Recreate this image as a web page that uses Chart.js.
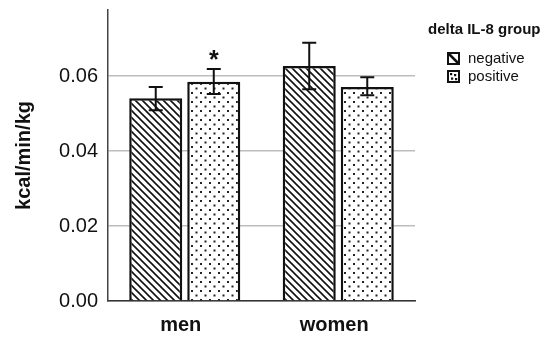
<!DOCTYPE html>
<html>
<head>
<meta charset="utf-8">
<script src="https://cdn.jsdelivr.net/npm/chart.js@4.4.1/dist/chart.umd.min.js"></script>
<style>
  html, body { margin: 0; padding: 0; background: #fff; }
  #wrap { width: 550px; height: 346px; position: relative; }
</style>
</head>
<body>
<div id="wrap"><canvas id="chart"></canvas></div>
<script>
// data
const categories = ['men', 'women'];
const groupNames = ['negative', 'positive'];
const negativeMeans = [0.0541, 0.0627];
const positiveMeans = [0.0585, 0.0571];
const negativeErr = [[0.0509, 0.0571], [0.0565, 0.0689]];
const positiveErr = [[0.0552, 0.0619], [0.0549, 0.0597]];
const significant = [[false, false], [true, false]]; // per dataset, per category
const yTicks = [0, 0.02, 0.04, 0.06];

const FONT = "'Liberation Sans', Arial, sans-serif";

function hatchPattern() {
  const c = document.createElement('canvas');
  c.width = 7; c.height = 7;
  const g = c.getContext('2d');
  g.fillStyle = '#fff';
  g.fillRect(0, 0, 7, 7);
  g.strokeStyle = '#111';
  g.lineWidth = 1.6;
  g.beginPath();
  g.moveTo(-1, -1); g.lineTo(8, 8);
  g.moveTo(-1, 6); g.lineTo(1, 8);
  g.moveTo(6, -1); g.lineTo(8, 1);
  g.stroke();
  return g.createPattern(c, 'repeat');
}

function dotPattern() {
  const c = document.createElement('canvas');
  c.width = 9; c.height = 9;
  const g = c.getContext('2d');
  g.fillStyle = '#fff';
  g.fillRect(0, 0, 9, 9);
  g.fillStyle = '#222';
  g.fillRect(2, 2, 2, 2);
  g.fillRect(6.5, 6.5, 2, 2);
  return g.createPattern(c, 'repeat');
}

const hatch = hatchPattern();
const dots = dotPattern();
const errors = [negativeErr, positiveErr];

const errorBars = {
  id: 'errorBars',
  afterDatasetsDraw(chart) {
    const ctx = chart.ctx;
    const y = chart.scales.y;
    ctx.save();
    ctx.strokeStyle = '#111';
    ctx.lineWidth = 2;
    chart.data.datasets.forEach((ds, i) => {
      chart.getDatasetMeta(i).data.forEach((bar, j) => {
        const [lo, hi] = errors[i][j];
        const yl = y.getPixelForValue(lo), yh = y.getPixelForValue(hi);
        ctx.beginPath();
        ctx.moveTo(bar.x, yl); ctx.lineTo(bar.x, yh);
        ctx.moveTo(bar.x - 7, yl); ctx.lineTo(bar.x + 7, yl);
        ctx.moveTo(bar.x - 7, yh); ctx.lineTo(bar.x + 7, yh);
        ctx.stroke();
        if (significant[i][j]) {
          ctx.fillStyle = '#111';
          ctx.font = 'bold 25px ' + FONT;
          ctx.textAlign = 'center';
          ctx.textBaseline = 'middle';
          ctx.fillText('*', bar.x, yh - 8);
        }
      });
    });
    ctx.restore();
  }
};

// legend swatches are coarse versions of the bar fills
function drawSwatch(ctx, kind, x, y, s) {
  ctx.fillStyle = '#fff';
  ctx.fillRect(x, y, s, s);
  ctx.fillStyle = '#111';
  ctx.strokeStyle = '#111';
  if (kind === 0) {
    ctx.lineWidth = 2.5;
    ctx.beginPath();
    ctx.moveTo(x + 1, y + 1); ctx.lineTo(x + s - 1, y + s - 1);
    ctx.stroke();
  } else {
    [[3, 3], [7, 4], [4, 7.5], [8, 8]].forEach(([dx, dy]) => ctx.fillRect(x + dx - 1, y + dy - 1, 2.2, 2.2));
  }
  ctx.lineWidth = 2;
  ctx.strokeRect(x, y, s, s);
}

const sideLegend = {
  id: 'sideLegend',
  afterDraw(chart) {
    const ctx = chart.ctx;
    ctx.save();
    ctx.fillStyle = '#111';
    ctx.textBaseline = 'middle';
    ctx.textAlign = 'left';
    ctx.font = 'bold 15px ' + FONT;
    ctx.fillText('delta IL-8 group', 428, 30);
    groupNames.forEach((name, i) => {
      const cy = 59 + i * 18;
      drawSwatch(ctx, i, 448, cy - 6, 11);
      ctx.fillStyle = '#111';
      ctx.font = '15px ' + FONT;
      ctx.fillText(name, 468, cy);
    });
    ctx.restore();
  }
};

new Chart(document.getElementById('chart'), {
  type: 'bar',
  data: {
    labels: categories,
    datasets: [
      {
        label: groupNames[0],
        data: negativeMeans,
        backgroundColor: hatch,
        borderColor: '#111',
        borderWidth: 2.5,
      },
      {
        label: groupNames[1],
        data: positiveMeans,
        backgroundColor: dots,
        borderColor: '#111',
        borderWidth: 2.5,
      },
    ],
  },
  options: {
    responsive: true,
    maintainAspectRatio: false,
    animation: false,
    devicePixelRatio: 1,
    layout: { padding: { top: 10, right: 135, left: 0, bottom: 0 } },
    datasets: { bar: { categoryPercentage: 0.756, barPercentage: 0.914 } },
    scales: {
      x: {
        grid: { display: false, drawTicks: false },
        border: { display: true, color: '#333', width: 1.5 },
        ticks: { color: '#111', font: { family: FONT, size: 20, weight: 'bold' }, padding: 12, labelOffset: -4 },
        afterFit: (s) => { s.height = 45; s.paddingLeft = 0; s.paddingRight = 0; },
      },
      y: {
        min: 0,
        max: 0.0776,
        afterBuildTicks: (s) => { s.ticks = yTicks.map(v => ({ value: v })); },
        grid: { color: '#bdbdbd', lineWidth: 1.5, drawTicks: false },
        border: { display: true, color: '#444', width: 1.5 },
        ticks: {
          color: '#111',
          padding: 10,
          font: { family: FONT, size: 20 },
          callback: (v) => Number(v).toFixed(2),
        },
        title: {
          display: true,
          text: 'kcal/min/kg',
          color: '#111',
          font: { family: FONT, size: 20, weight: 'bold' },
          padding: { top: 12, bottom: 0 },
        },
        afterFit: (s) => { s.width = 108; s.paddingTop = 0; s.paddingBottom = 0; },
      },
    },
    plugins: {
      legend: { display: false },
      tooltip: { enabled: false },
    },
  },
  plugins: [errorBars, sideLegend],
});
</script>
</body>
</html>
